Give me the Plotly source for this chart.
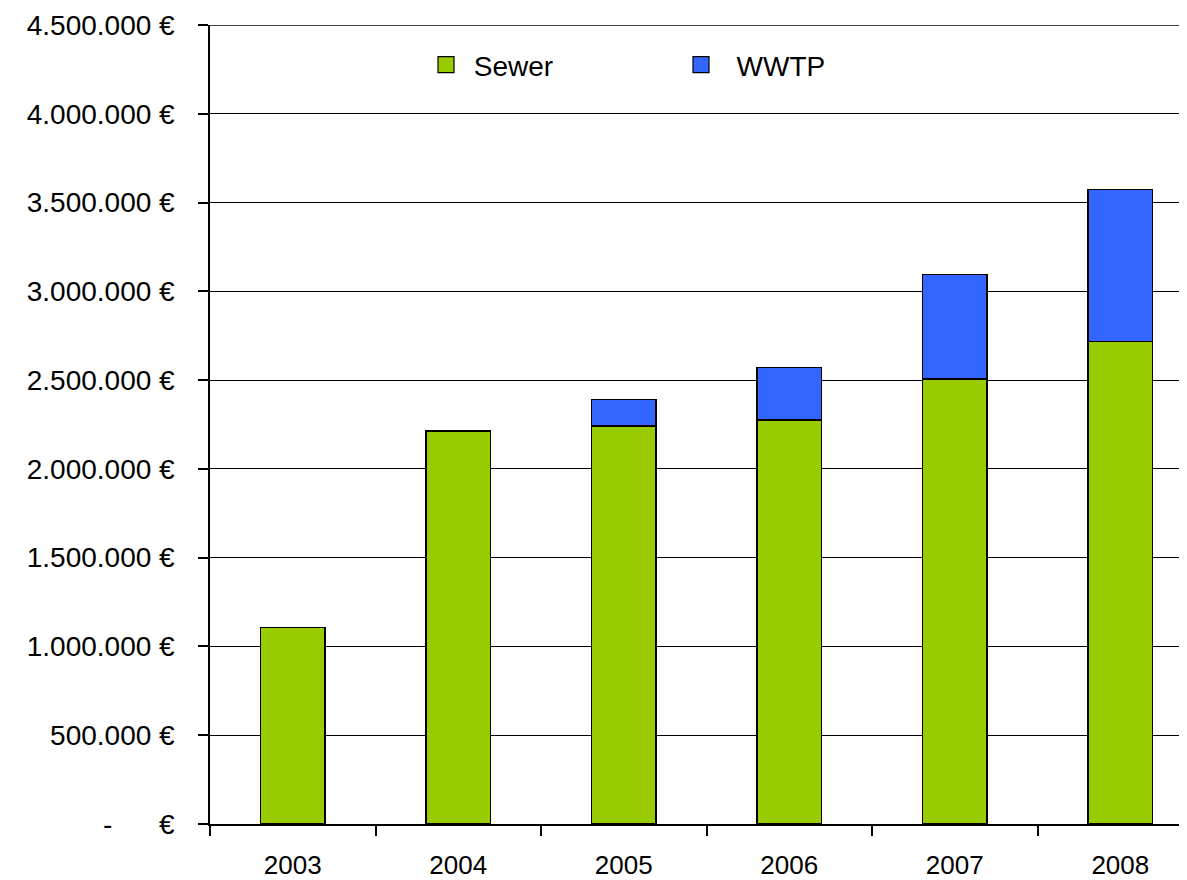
import plotly.graph_objects as go

years = ["2003", "2004", "2005", "2006", "2007", "2008"]
sewer = [1107000, 2213000, 2242000, 2275000, 2506000, 2719000]
wwtp = [0, 0, 151000, 298000, 590000, 854000]
tick_vals = [0, 500000, 1000000, 1500000, 2000000, 2500000, 3000000, 3500000, 4000000, 4500000]
tick_text = ["-\u00a0\u00a0\u00a0\u00a0\u00a0\u00a0€", "500.000 €", "1.000.000 €", "1.500.000 €", "2.000.000 €",
             "2.500.000 €", "3.000.000 €", "3.500.000 €", "4.000.000 €", "4.500.000 €"]
green = "#99CC00"
blue = "#3366FF"

fig = go.Figure()
fig.add_trace(go.Bar(x=years, y=sewer, name="Sewer", width=0.39, showlegend=False, legendgroup="s",
                     marker=dict(color=green, line=dict(color="#000000", width=1.2))))
fig.add_trace(go.Bar(x=years, y=[v if v else None for v in wwtp], name="WWTP", width=0.39,
                     showlegend=False, legendgroup="w",
                     marker=dict(color=blue, line=dict(color="#000000", width=1.2))))
# legend entries (larger square swatches)
for nm, col, grp in [("\u00a0Sewer", green, "s"), ("\u00a0\u00a0WWTP", blue, "w")]:
    fig.add_trace(go.Scatter(x=[None], y=[None], mode="markers", name=nm, legendgroup=grp,
                             marker=dict(symbol="square", size=16, color=col,
                                         line=dict(color="#000000", width=1.2))))

fam = "Liberation Sans, Arial, sans-serif"
fig.update_layout(
    barmode="stack",
    width=1179, height=872,
    margin=dict(l=202, r=0, t=17, b=54),
    paper_bgcolor="white", plot_bgcolor="white",
    font=dict(family=fam, size=26, color="#000000"),
    showlegend=True,
    legend=dict(orientation="h", x=0.2211, y=0.95, xanchor="left", yanchor="middle",
                entrywidth=210, entrywidthmode="pixels",
                font=dict(family=fam, size=28, color="#000000"), bgcolor="rgba(0,0,0,0)",
                traceorder="normal", itemsizing="trace"),
    xaxis=dict(type="category", range=[-0.5, 5.403], showline=True, linecolor="#000000", linewidth=1.5,
               ticks="outside", ticklen=10, tickcolor="#000000", tickwidth=1.5, tickson="boundaries",
               showgrid=False, ticklabelstandoff=17,
               tickfont=dict(family=fam, size=26, color="#000000")),
    yaxis=dict(range=[0, 4500000], tickvals=tick_vals, ticktext=tick_text, showline=True,
               linecolor="#000000", linewidth=1.5, ticks="outside", ticklen=10, tickcolor="#000000",
               tickwidth=1.5, showgrid=True, gridcolor="#000000", gridwidth=1.3, zeroline=False,
               ticklabelstandoff=18, tickfont=dict(family=fam, size=28, color="#000000")),
    shapes=[dict(type="line", xref="paper", yref="y", x0=-0.011, x1=1, y0=4500000, y1=4500000,
                 line=dict(color="#000000", width=1.3), layer="below")],
)
fig.write_html("out.html")
